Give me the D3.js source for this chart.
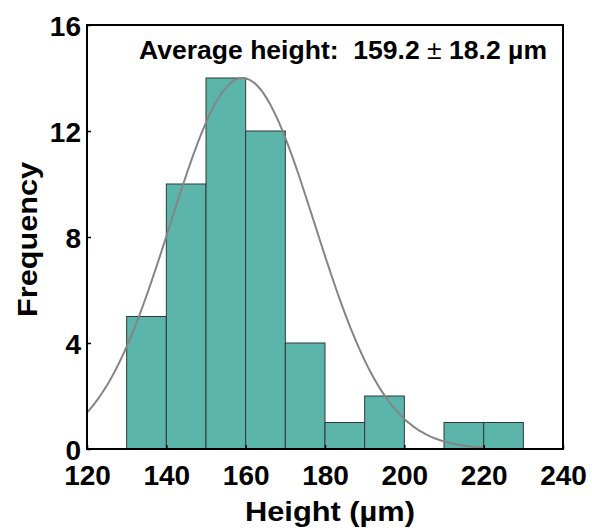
<!DOCTYPE html>
<html><head><meta charset="utf-8">
<script src="https://cdn.jsdelivr.net/npm/d3@7"></script>
<style>body{margin:0;background:#fff}svg{display:block}text{font-family:"Liberation Sans",Arial,sans-serif;font-weight:bold;fill:#000}</style>
</head><body>
<script>
// Data
const binStarts = [130,140,150,160,170,180,190,200,210,220];
const binWidth = 10;
const counts = [5,10,14,12,4,1,2,0,1,1];
const xTicks = [120,140,160,180,200,220,240];
const yTicks = [0,4,8,12,16];
const fitMean = 159.2, fitSd = 18.2, fitPeak = 14;
const fitRange = [120,220];
const annoParts = ["Average height:  159.2 ", "\u00B1", " 18.2 \u00B5m"];

const W=592,H=531;
const m={l:87,r:563,t:25,b:449};
const svg=d3.select("body").append("svg").attr("width",W).attr("height",H);
const x=d3.scaleLinear().domain([120,240]).range([m.l,m.r]);
const y=d3.scaleLinear().domain([0,16]).range([m.b,m.t]);

// bars
svg.selectAll("rect.bar").data(binStarts.map((s,i)=>({s,c:counts[i]})).filter(d=>d.c>0))
 .enter().append("rect").attr("class","bar")
 .attr("x",d=>x(d.s)).attr("width",d=>x(d.s+binWidth)-x(d.s))
 .attr("y",d=>y(d.c)).attr("height",d=>y(0)-y(d.c))
 .attr("fill","#5bb5aa").attr("stroke","#2f3a38").attr("stroke-width",1);

// fit curve
const pts=d3.range(fitRange[0],fitRange[1]+0.01,0.5).map(v=>[v,fitPeak*Math.exp(-((v-fitMean)**2)/(2*fitSd*fitSd))]);
svg.append("path").datum(pts).attr("fill","none").attr("stroke","#858585").attr("stroke-width",2)
 .attr("d",d3.line().x(d=>x(d[0])).y(d=>y(d[1])).curve(d3.curveBasis));

// axes
const xa=svg.append("g").attr("transform",`translate(0,${m.b})`)
 .call(d3.axisBottom(x).tickValues(xTicks).tickSize(-4).tickPadding(16));
const ya=svg.append("g").attr("transform",`translate(${m.l},0)`)
 .call(d3.axisLeft(y).tickValues(yTicks).tickSize(-4).tickPadding(6));
[xa,ya].forEach(g=>{g.select(".domain").remove();g.selectAll("line").attr("stroke","#000").attr("stroke-width",1.5);
 g.selectAll("text").attr("font-size",28).attr("font-family",'"Liberation Sans",Arial,sans-serif').attr("font-weight","bold").attr("fill","#000");});
xa.selectAll("text").attr("dy","0.71em");
ya.selectAll("text").attr("dy","0.36em");

// frame
svg.append("rect").attr("x",m.l).attr("y",m.t).attr("width",m.r-m.l).attr("height",m.b-m.t)
 .attr("fill","none").attr("stroke","#000").attr("stroke-width",2);

// titles
svg.append("text").attr("x",245).attr("y",521).attr("font-size",28)
 .attr("textLength",170).attr("lengthAdjust","spacingAndGlyphs").text("Height (\u00B5m)");
svg.append("text").attr("transform","translate(37,317) rotate(-90)").attr("font-size",28)
 .attr("textLength",155).attr("lengthAdjust","spacingAndGlyphs").text("Frequency");
const an=svg.append("text").attr("x",139).attr("y",59).attr("font-size",25)
 .attr("textLength",408).attr("lengthAdjust","spacingAndGlyphs").style("white-space","pre");
an.selectAll("tspan").data(annoParts).enter().append("tspan")
 .attr("font-weight",(d,i)=>i===1?"normal":"bold").text(d=>d);
</script>
</body></html>
